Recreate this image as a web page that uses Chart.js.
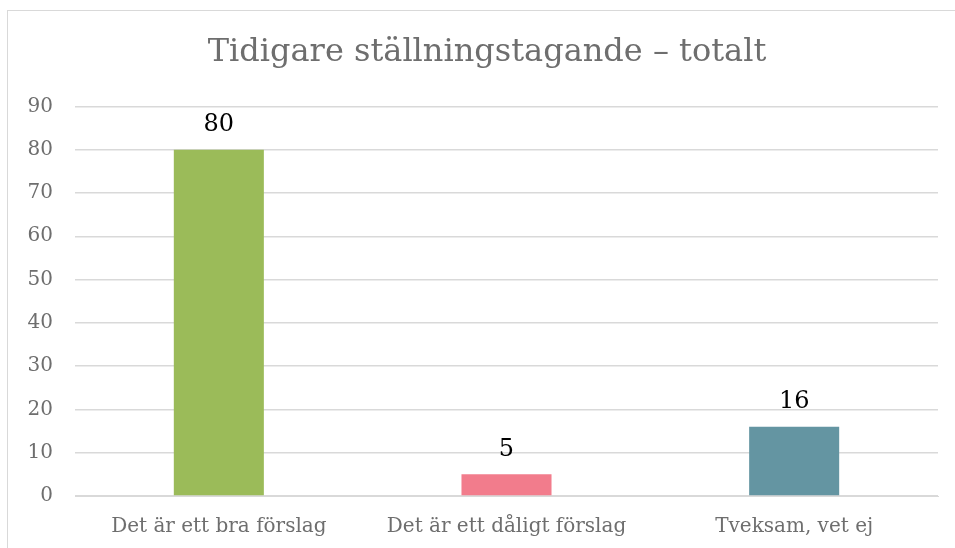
<!DOCTYPE html>
<html>
<head>
<meta charset="utf-8">
<script src="https://cdn.jsdelivr.net/npm/chart.js@4"></script>
<style>
    html, body { margin: 0; padding: 0; background: #fff; }
    #wrap { position: relative; width: 955px; height: 548px; overflow: hidden; }
    #frame { position: absolute; left: 7px; top: 10px; width: 1000px; height: 600px; border: 1px solid #d9d9d9; }
    #chart { position: absolute; left: 0; top: 0; }
</style>
</head>
<body>
<div id="wrap">
    <div id="frame"></div>
    <canvas id="chart" width="955" height="548"></canvas>
</div>
<script>
(function() {
    /*Data*/
    var categories = ['Det är ett bra förslag', 'Det är ett dåligt förslag', 'Tveksam, vet ej'];
    var values = [80, 5, 16];
    var barColors = ['#9bbb59', '#f27c8c', '#6495a2'];
    var chartTitle = 'Tidigare ställningstagande – totalt';

    var fontFamily = "'DejaVu Serif', 'Liberation Serif', serif";

    /*Value labels above bars*/
    var valueLabels = {
        id: 'valueLabels',
        afterLayout: function(chart) {
            /*nudge title so it sits centred like the original*/
            var t = chart.titleBlock;
            if (t) { t.left += 14; t.right += 14; }
        },
        afterDatasetsDraw: function(chart) {
            var ctx = chart.ctx;
            var meta = chart.getDatasetMeta(0);
            ctx.save();
            ctx.fillStyle = '#000';
            ctx.font = '24px ' + fontFamily;
            ctx.textAlign = 'center';
            ctx.textBaseline = 'bottom';
            meta.data.forEach(function(bar, i) {
                ctx.fillText(String(values[i]), bar.x, bar.y - 13);
            });
            ctx.restore();
        }
    };

    new Chart(document.getElementById('chart'), {
        type: 'bar',
        data: {
            labels: categories,
            datasets: [{
                data: values,
                backgroundColor: barColors,
                categoryPercentage: 1,
                barPercentage: 0.313
            }]
        },
        options: {
            responsive: false,
            animation: false,
            layout: { padding: { left: 8, right: 17, top: 20, bottom: 0 } },
            plugins: {
                legend: { display: false },
                tooltip: { enabled: false },
                title: {
                    display: true,
                    text: chartTitle,
                    color: '#6e6e6e',
                    font: { family: fontFamily, size: 32, weight: 'normal' },
                    padding: { top: 13, bottom: 35 }
                }
            },
            scales: {
                x: {
                    afterFit: function(scale) { scale.height = 52; },
                    grid: { display: false, drawTicks: false },
                    border: { display: true, color: '#d9d9d9', width: 1 },
                    ticks: {
                        color: '#6e6e6e',
                        font: { family: fontFamily, size: 20 },
                        padding: 19,
                        maxRotation: 0
                    }
                },
                y: {
                    min: 0,
                    max: 90,
                    afterFit: function(scale) { scale.width = 67; },
                    grid: { color: '#d9d9d9', lineWidth: 1.5, drawTicks: false },
                    border: { display: false },
                    ticks: {
                        stepSize: 10,
                        color: '#6e6e6e',
                        font: { family: fontFamily, size: 20 },
                        padding: 22
                    }
                }
            }
        },
        plugins: [valueLabels]
    });
}());
</script>
</body>
</html>
